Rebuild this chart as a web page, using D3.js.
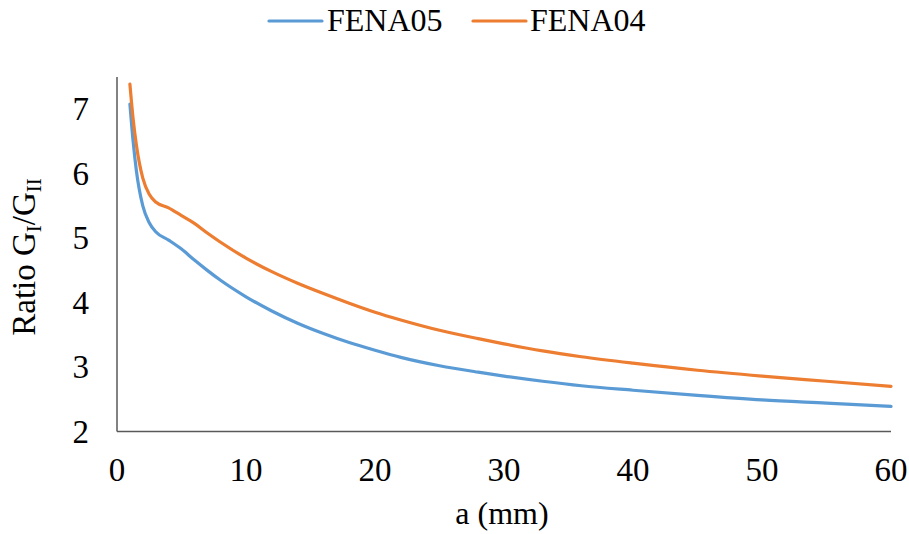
<!DOCTYPE html>
<html>
<head>
<meta charset="utf-8">
<script src="https://cdn.jsdelivr.net/npm/d3@7"></script>
<style>
  html, body { margin: 0; padding: 0; background: #fff; }
  svg { display: block; }
  text { font-family: "Liberation Serif", "Times New Roman", serif; fill: #000; }
</style>
</head>
<body>
<svg id="chart" width="909" height="534"></svg>
<script>
const aValues = [1, 1.25, 1.5, 2, 2.5, 3, 4, 5, 6, 7, 8, 10, 12, 14, 16, 18, 20, 22, 25, 28, 30, 33, 36, 40, 45, 50, 55, 60];
const fena05 = [7.08, 6.50, 6.05, 5.50, 5.24, 5.10, 4.97, 4.83, 4.66, 4.50, 4.35, 4.09, 3.87, 3.68, 3.52, 3.38, 3.26, 3.15, 3.02, 2.92, 2.86, 2.78, 2.71, 2.64, 2.56, 2.49, 2.44, 2.39];
const fena04 = [7.39, 6.85, 6.45, 5.93, 5.68, 5.56, 5.47, 5.35, 5.23, 5.08, 4.94, 4.69, 4.48, 4.30, 4.14, 3.99, 3.85, 3.73, 3.57, 3.44, 3.36, 3.25, 3.16, 3.06, 2.95, 2.86, 2.78, 2.70];
const seriesNames = ["FENA05", "FENA04"];
const seriesColors = ["#5B9BD5", "#ED7D31"];
const xTicks = [0, 10, 20, 30, 40, 50, 60];
const yTicks = [2, 3, 4, 5, 6, 7];

const svg = d3.select("#chart");
const pLeft = 117, pRight = 891, pTop = 77, pBottom = 431.5;

const x = d3.scaleLinear().domain([0, 60]).range([pLeft, pRight]);
const y = d3.scaleLinear().domain([2, 7.5]).range([pBottom, pTop]);

// axes
const axisColor = "#595959";
svg.append("line").attr("x1", pLeft).attr("x2", pLeft).attr("y1", pTop).attr("y2", pBottom)
  .attr("stroke", axisColor).attr("stroke-width", 1.5);
svg.append("line").attr("x1", pLeft).attr("x2", pRight).attr("y1", pBottom).attr("y2", pBottom)
  .attr("stroke", axisColor).attr("stroke-width", 1.5);

// tick labels
svg.append("g").selectAll("text").data(xTicks).join("text")
  .attr("x", d => x(d)).attr("y", 481)
  .attr("text-anchor", "middle").attr("font-size", 33)
  .text(d => d);

svg.append("g").selectAll("text").data(yTicks).join("text")
  .attr("x", 89).attr("y", d => y(d)).attr("dy", "0.34em")
  .attr("text-anchor", "end").attr("font-size", 33)
  .text(d => d);

// axis titles
svg.append("text").attr("x", (pLeft + pRight) / 2 - 2).attr("y", 524)
  .attr("text-anchor", "middle").attr("font-size", 32).text("a (mm)");

const yt = svg.append("text")
  .attr("transform", "translate(35,257) rotate(-90)")
  .attr("text-anchor", "middle").attr("font-size", 33);
yt.append("tspan").text("Ratio G");
yt.append("tspan").attr("font-size", 21).attr("dy", 6).text("I");
yt.append("tspan").attr("dy", -6).text("/G");
yt.append("tspan").attr("font-size", 21).attr("dy", 6).text("II");

// lines
const data = [fena05, fena04];
const line = d3.line()
  .x((d, i) => x(aValues[i]))
  .y(d => y(d))
  .curve(d3.curveMonotoneX);

svg.append("g").selectAll("path").data(data).join("path")
  .attr("d", d => line(d))
  .attr("fill", "none")
  .attr("stroke", (d, i) => seriesColors[i])
  .attr("stroke-width", 3.2)
  .attr("stroke-linejoin", "round")
  .attr("stroke-linecap", "round");

// legend
const legendItems = [
  { name: seriesNames[0], color: seriesColors[0], x0: 269, tx: 327 },
  { name: seriesNames[1], color: seriesColors[1], x0: 473, tx: 530 }
];
const lg = svg.append("g");
legendItems.forEach(it => {
  lg.append("line").attr("x1", it.x0).attr("x2", it.x0 + 53).attr("y1", 21).attr("y2", 21)
    .attr("stroke", it.color).attr("stroke-width", 3.2).attr("stroke-linecap", "round");
  lg.append("text").attr("x", it.tx).attr("y", 31).attr("font-size", 32).text(it.name);
});
</script>
</body>
</html>
